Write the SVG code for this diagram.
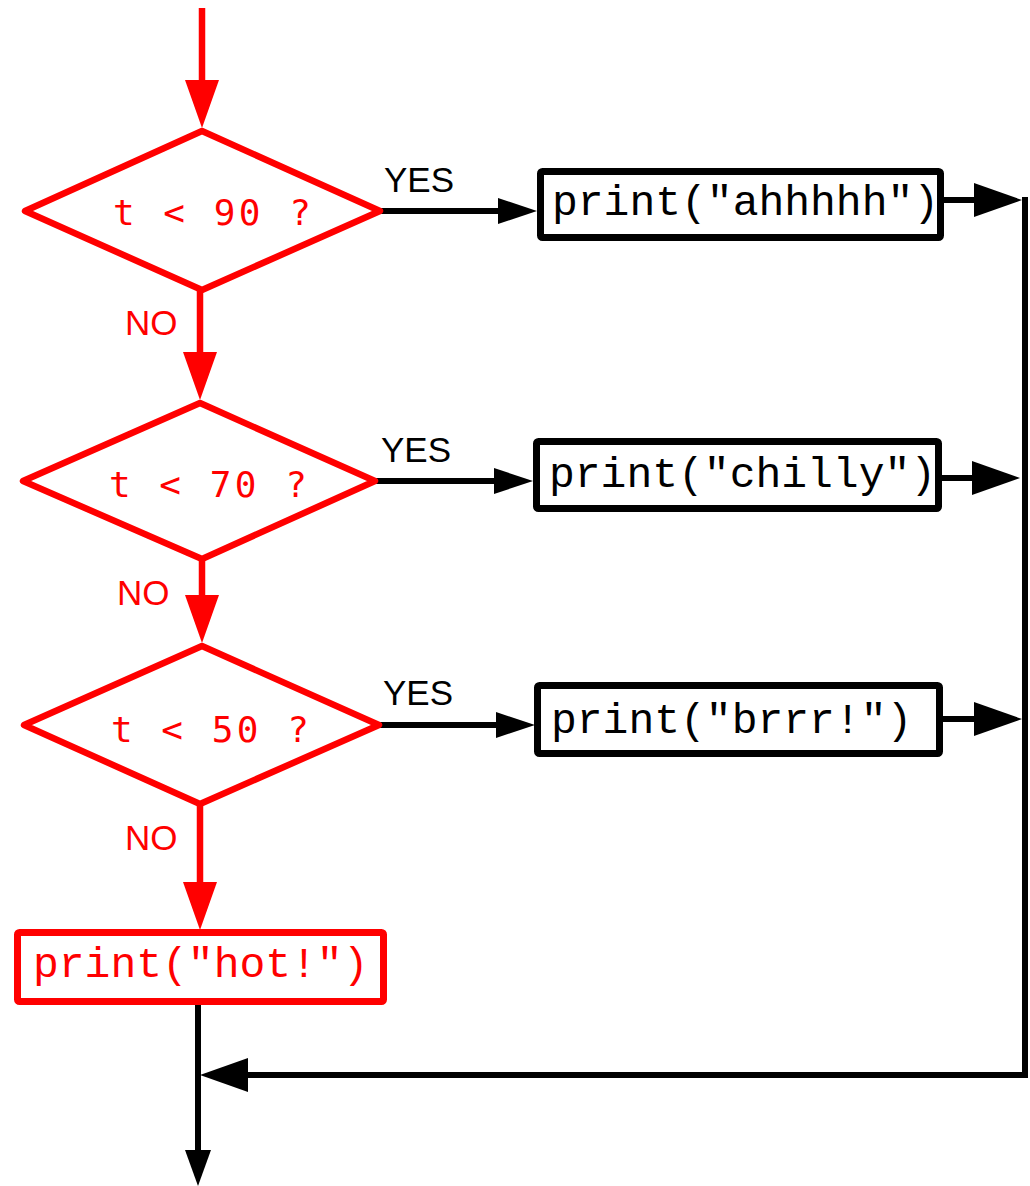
<svg xmlns="http://www.w3.org/2000/svg" width="1030" height="1186" viewBox="0 0 1030 1186">
  <style>
    .dia { fill: #fff; stroke: #ff0000; stroke-width: 6.5; stroke-linejoin: round; }
    .box { fill: #fff; stroke: #000; stroke-width: 7; stroke-linejoin: round; }
    .rbox { fill: #fff; stroke: #ff0000; stroke-width: 7; stroke-linejoin: round; }
    .rl { stroke: #ff0000; stroke-width: 6.5; fill: none; }
    .bl { stroke: #000; stroke-width: 6; fill: none; }
    .cond { font-family: "DejaVu Sans Mono", monospace; font-size: 36px; letter-spacing: 3.5px; fill: #ff0000; }
    .code { font-family: "Nimbus Mono PS", "Courier New", FreeMono, "Liberation Mono", monospace; font-size: 43px; fill: #000; }
    .rcode { font-family: "Nimbus Mono PS", "Courier New", FreeMono, "Liberation Mono", monospace; font-size: 43px; fill: #ff0000; }
    .yes { font-family: "Liberation Sans", Arial, sans-serif; font-size: 35px; fill: #000; }
    .no { font-family: "Liberation Sans", Arial, sans-serif; font-size: 35px; fill: #ff0000; }
  </style>
  <defs>
    <marker id="redBig" markerUnits="userSpaceOnUse" markerWidth="48" markerHeight="34" refX="0" refY="17" orient="auto" overflow="visible">
      <path d="M0,0 L48,17 L0,34 Z" fill="#ff0000"/>
    </marker>
    <marker id="blackBig" markerUnits="userSpaceOnUse" markerWidth="48" markerHeight="34" refX="0" refY="17" orient="auto" overflow="visible">
      <path d="M0,0 L48,17 L0,34 Z" fill="#000"/>
    </marker>
    <marker id="blackSmall" markerUnits="userSpaceOnUse" markerWidth="39" markerHeight="26" refX="0" refY="13" orient="auto" overflow="visible">
      <path d="M0,0 L39,13 L0,26 Z" fill="#000"/>
    </marker>
    <marker id="blackDown" markerUnits="userSpaceOnUse" markerWidth="36" markerHeight="26" refX="0" refY="13" orient="auto" overflow="visible">
      <path d="M0,0 L36,13 L0,26 Z" fill="#000"/>
    </marker>
  </defs>

  <g id="connectors">
    <line class="rl" x1="202" y1="8" x2="202" y2="80" marker-end="url(#redBig)"/>
    <line class="rl" x1="200" y1="290" x2="200" y2="352" marker-end="url(#redBig)"/>
    <line class="rl" x1="202" y1="559" x2="202" y2="595" marker-end="url(#redBig)"/>
    <line class="rl" x1="200" y1="804" x2="200" y2="882" marker-end="url(#redBig)"/>

    <line class="bl" x1="380" y1="211" x2="498" y2="211" marker-end="url(#blackSmall)"/>
    <line class="bl" x1="375" y1="481" x2="494" y2="481" marker-end="url(#blackSmall)"/>
    <line class="bl" x1="379" y1="725" x2="496" y2="725" marker-end="url(#blackSmall)"/>

    <line class="bl" x1="944" y1="200" x2="974" y2="200" marker-end="url(#blackBig)"/>
    <line class="bl" x1="942" y1="478" x2="972" y2="478" marker-end="url(#blackBig)"/>
    <line class="bl" x1="943" y1="719" x2="974" y2="719" marker-end="url(#blackBig)"/>

    <line class="bl" x1="1025" y1="197" x2="1025" y2="1078"/>
    <line class="bl" x1="1028" y1="1075" x2="248" y2="1075" marker-end="url(#blackBig)"/>
    <line class="bl" x1="198" y1="1004" x2="198" y2="1150" marker-end="url(#blackDown)"/>

    <text class="yes" x="384" y="192">YES</text>
    <text class="yes" x="381" y="462">YES</text>
    <text class="yes" x="383" y="705">YES</text>
    <text class="no" x="125" y="335">NO</text>
    <text class="no" x="117" y="605">NO</text>
    <text class="no" x="125" y="850">NO</text>
  </g>

  <g id="cond90">
    <polygon class="dia" points="202,131 380,211 202,290 25,211"/>
    <text class="cond" x="113" y="225">t &lt; 90 ?</text>
  </g>
  <g id="cond70">
    <polygon class="dia" points="200,403 375,481 202,559 23,481"/>
    <text class="cond" x="109" y="497">t &lt; 70 ?</text>
  </g>
  <g id="cond50">
    <polygon class="dia" points="202,646 379,725 200,804 24,725"/>
    <text class="cond" x="111" y="742">t &lt; 50 ?</text>
  </g>

  <g id="ahhhhh">
    <rect class="box" x="540.5" y="171.5" width="400" height="66" rx="2"/>
    <text class="code" x="552" y="215">print("ahhhhh")</text>
  </g>
  <g id="chilly">
    <rect class="box" x="536.5" y="441.5" width="402" height="67" rx="2"/>
    <text class="code" x="549" y="487">print("chilly")</text>
  </g>
  <g id="brrr">
    <rect class="box" x="537.5" y="685.5" width="402" height="68" rx="2"/>
    <text class="code" x="551" y="733">print("brrr!")</text>
  </g>
  <g id="hot">
    <rect class="rbox" x="17.5" y="932.5" width="366" height="69" rx="2"/>
    <text class="rcode" x="33" y="977">print("hot!")</text>
  </g>
</svg>
